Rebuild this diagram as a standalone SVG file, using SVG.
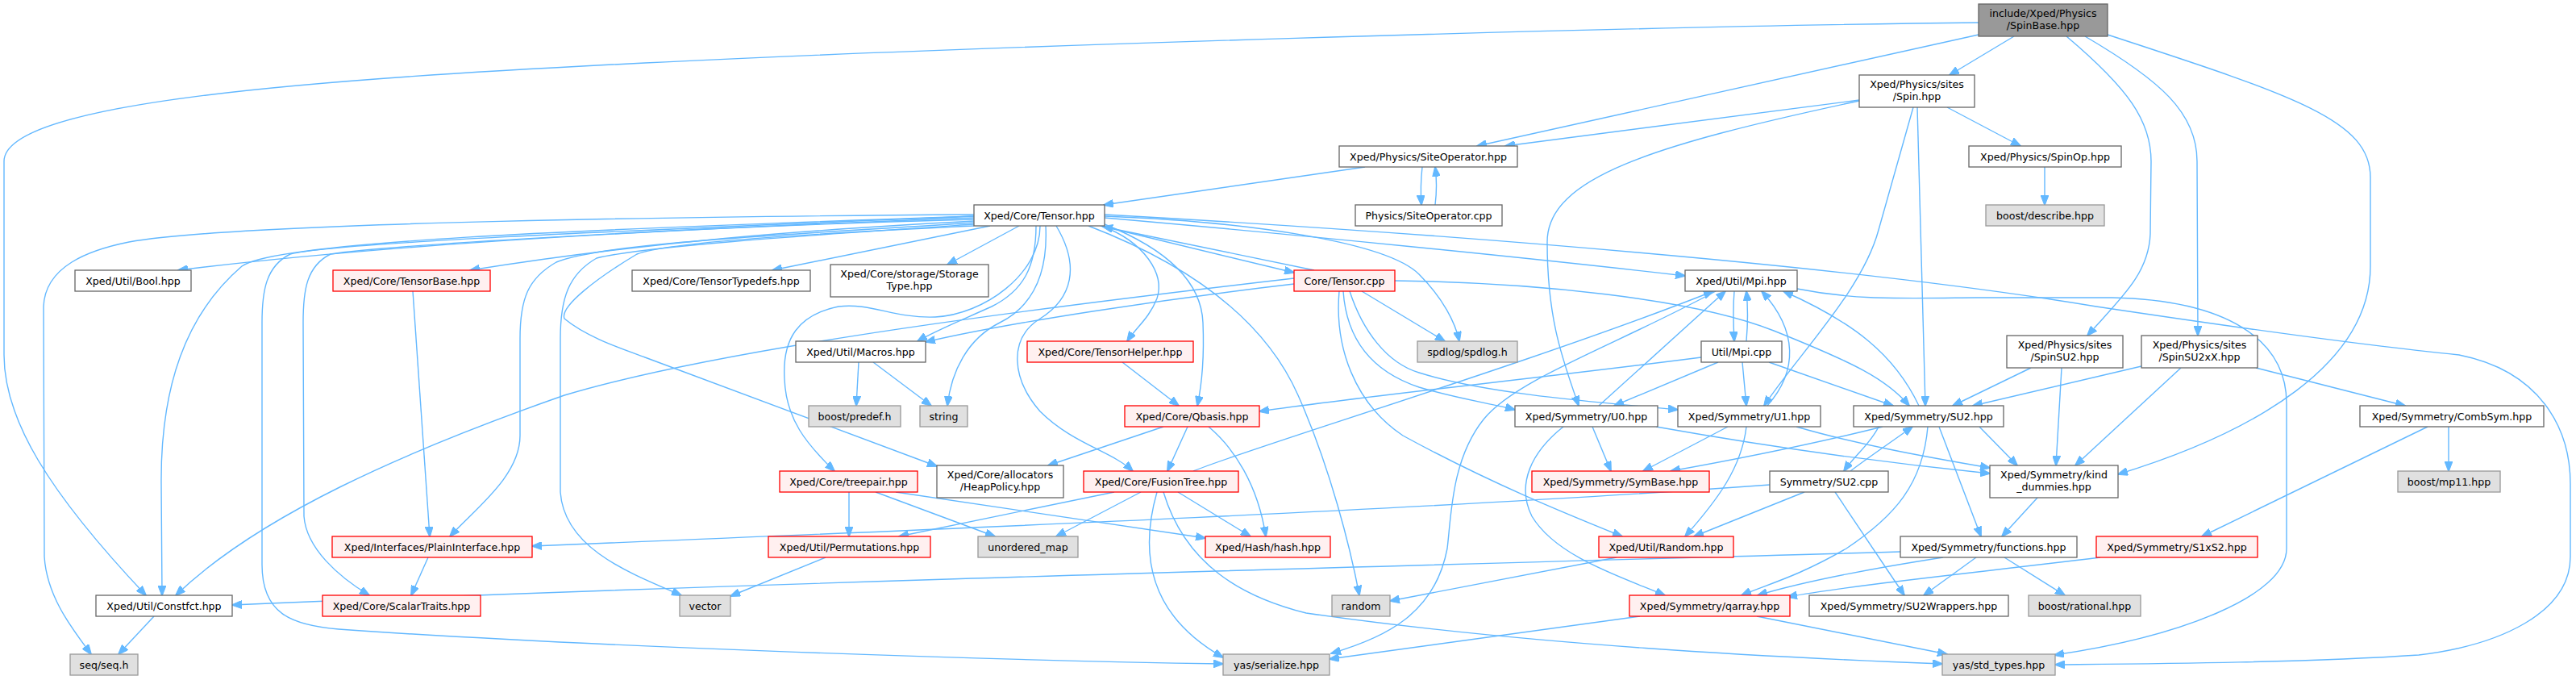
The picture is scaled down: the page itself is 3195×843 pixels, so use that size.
<svg xmlns="http://www.w3.org/2000/svg" width="3195" height="843" viewBox="0 0 3195 843">
<style>
rect{stroke-width:1.3}
.n rect{fill:#ffffff;stroke:#666666}
.r rect{fill:#fff0f0;stroke:#ff0000}
.g rect{fill:#e0e0e0;stroke:#999999}
.c rect{fill:#999999;stroke:#666666}
text{font-family:"DejaVu Sans","Liberation Sans",sans-serif;font-size:12.6px;text-anchor:middle;fill:#000}
#edges path{fill:none;stroke:#63b8ff;stroke-width:1.4;marker-end:url(#a)}
</style>
<defs>
<marker id="a" markerWidth="13" markerHeight="10" refX="12" refY="5" orient="auto" markerUnits="userSpaceOnUse"><path d="M0,0 L13,5 L0,10 z" fill="#63b8ff" stroke="#63b8ff"/></marker>
</defs>
<rect x="0" y="0" width="3195" height="843" fill="#ffffff"/>
<g id="edges">
<path d="M2498,45 L2418,93"/>
<path d="M2454,43 L1832,181"/>
<path d="M2454,28 C2000,33 1200,58 800,78 C400,98 5,125 5,200 L5,440 C5,520 60,610 181,738"/>
<path d="M2563,45 C2640,110 2668,150 2668,200 L2667,290 C2665,340 2630,370 2589,416"/>
<path d="M2586,45 C2680,100 2725,140 2725,200 L2726,416"/>
<path d="M2614,43 C2850,120 2940,150 2940,220 L2940,330 C2940,450 2800,535 2627,588"/>
<path d="M2306,124 L1867,181"/>
<path d="M2306,125 C2050,180 1919,220 1919,300 C1919,400 1940,450 1958,503"/>
<path d="M2373,133 L2330,285 C2310,360 2230,440 2188,503"/>
<path d="M2378,133 L2388,503"/>
<path d="M2415,133 L2506,181"/>
<path d="M2536,207 L2536,254"/>
<path d="M1693,207 L1369,254"/>
<path d="M1764,207 C1762,225 1762,240 1763,254"/>
<path d="M1780,254 C1782,238 1782,222 1780,207"/>
<path d="M1208,272 C900,280 500,300 221,335"/>
<path d="M1208,274 C1000,285 800,300 583,335"/>
<path d="M1208,266 C900,268 300,275 160,300 C110,310 56,330 54,380 L55,690 C58,740 90,780 113,811"/>
<path d="M1208,268 C700,285 340,300 300,330 C230,390 199,480 200,600 L201,738"/>
<path d="M1208,268 C800,285 420,300 360,315 C330,330 325,360 325,400 L325,700 C325,760 360,775 420,780 C700,800 1200,818 1517,823"/>
<path d="M1208,270 C800,285 470,305 410,315 C380,330 376,360 376,400 L377,640 C380,680 420,715 458,738"/>
<path d="M1208,276 C1000,290 750,300 690,325 C655,345 645,370 645,420 L645,540 C645,590 590,630 558,665"/>
<path d="M1208,278 C1000,292 800,305 740,320 C705,340 695,370 695,420 L695,610 C700,680 780,710 845,738"/>
<path d="M1208,280 C1000,290 830,300 790,315 C740,345 694,380 700,395 C730,420 780,435 800,443 L1162,578"/>
<path d="M1228,280 L958,335"/>
<path d="M1264,280 L1175,328"/>
<path d="M1285,280 C1285,330 1270,360 1230,380 C1190,398 1160,410 1138,423"/>
<path d="M1297,280 C1300,340 1280,380 1240,400 C1200,420 1180,460 1175,503"/>
<path d="M1290,280 C1290,340 1220,390 1160,393 C1110,395 1080,375 1040,380 C990,390 970,420 973,470 C975,520 1000,550 1035,584"/>
<path d="M1310,280 C1340,330 1330,370 1290,395 C1250,420 1255,470 1290,510 C1330,550 1380,560 1405,584"/>
<path d="M1366,280 C1420,300 1445,340 1435,370 C1425,395 1410,405 1398,423"/>
<path d="M1370,278 C1450,310 1490,350 1492,400 C1494,450 1490,480 1485,503"/>
<path d="M1365,280 L1605,338"/>
<path d="M1630,335 L1368,281"/>
<path d="M1370,270 C1600,290 1900,320 2090,342"/>
<path d="M1370,268 C1550,275 1720,300 1760,340 C1790,370 1805,400 1810,423"/>
<path d="M1350,280 C1480,330 1570,400 1610,490 C1650,580 1675,680 1686,738"/>
<path d="M1370,266 C1800,290 2300,330 2600,380 C2800,410 2950,430 3050,440 C3150,460 3188,530 3188,600 L3188,690 C3188,760 3100,800 3000,812 C2850,822 2650,823 2549,824"/>
<path d="M1605,352 C1450,370 1250,400 1148,424"/>
<path d="M1605,345 C1300,380 900,430 700,490 C500,560 320,640 218,738"/>
<path d="M1689,361 L1792,423"/>
<path d="M1666,361 C1670,420 1700,460 1760,480 C1810,495 1850,500 1879,508"/>
<path d="M1674,361 C1690,410 1720,450 1760,462 C1850,490 2000,500 2081,508"/>
<path d="M1661,361 C1655,430 1680,500 1740,540 C1850,600 1950,640 2012,665"/>
<path d="M1730,348 C1900,350 2100,370 2200,410 C2300,450 2340,470 2368,503"/>
<path d="M2151,361 C2149,385 2150,405 2151,423"/>
<path d="M2166,423 C2168,400 2168,380 2166,361"/>
<path d="M2128,361 C2000,430 1880,470 1840,520 C1800,570 1800,640 1795,680 C1780,760 1720,790 1651,810"/>
<path d="M2229,358 C2300,372 2350,370 2450,369 L2620,369 C2760,372 2836,420 2836,500 L2836,680 C2836,740 2700,790 2548,812"/>
<path d="M1983,503 L2140,361"/>
<path d="M1975,529 L1998,584"/>
<path d="M1939,529 C1900,560 1880,600 1900,640 C1930,690 2010,715 2065,738"/>
<path d="M2054,529 C2200,555 2350,575 2468,587"/>
<path d="M2192,503 C2230,460 2230,410 2185,361"/>
<path d="M2143,529 L2038,584"/>
<path d="M2166,529 C2160,580 2130,620 2090,665"/>
<path d="M2228,529 C2300,550 2380,565 2468,580"/>
<path d="M2380,503 C2350,440 2300,400 2212,361"/>
<path d="M2335,529 C2250,550 2150,570 2072,584"/>
<path d="M2391,529 C2385,600 2350,640 2290,680 C2230,715 2190,725 2160,738"/>
<path d="M2405,529 L2457,665"/>
<path d="M2455,529 L2502,577"/>
<path d="M2330,529 C2320,550 2300,565 2287,584"/>
<path d="M2295,584 C2320,565 2350,545 2372,529"/>
<path d="M2131,449 L2002,503"/>
<path d="M2161,449 L2166,503"/>
<path d="M2194,449 L2348,503"/>
<path d="M2110,443 C1900,470 1700,490 1562,510"/>
<path d="M2519,456 L2422,503"/>
<path d="M2557,456 L2550,577"/>
<path d="M2656,454 L2447,503"/>
<path d="M2705,456 L2574,577"/>
<path d="M2798,456 L2983,503"/>
<path d="M3011,529 L2731,665"/>
<path d="M3037,529 L3037,584"/>
<path d="M2605,691 C2450,710 2300,725 2217,740"/>
<path d="M2527,617 L2483,665"/>
<path d="M2357,684 C1800,700 1000,720 288,750"/>
<path d="M2410,691 C2320,705 2240,720 2180,738"/>
<path d="M2451,691 L2386,738"/>
<path d="M2486,691 L2561,738"/>
<path d="M2195,601 C1800,630 1200,655 660,677"/>
<path d="M2238,610 L2101,665"/>
<path d="M2276,610 L2362,738"/>
<path d="M2005,691 L1724,745"/>
<path d="M2034,764 L1649,817"/>
<path d="M2179,764 L2415,811"/>
<path d="M1480,584 C1550,555 1900,450 2125,361"/>
<path d="M1382,610 L1115,665"/>
<path d="M1415,610 L1310,665"/>
<path d="M1461,610 L1551,665"/>
<path d="M1435,610 C1415,680 1420,760 1517,815"/>
<path d="M1443,610 C1470,700 1540,740 1620,760 C1900,800 2200,815 2409,823"/>
<path d="M1053,610 L1053,665"/>
<path d="M1086,610 L1234,665"/>
<path d="M1111,610 L1495,667"/>
<path d="M1024,691 L906,739"/>
<path d="M1443,529 L1300,577"/>
<path d="M1473,529 L1448,584"/>
<path d="M1499,529 C1530,555 1560,600 1570,665"/>
<path d="M1392,449 L1462,503"/>
<path d="M1065,449 L1062,503"/>
<path d="M1083,449 L1155,503"/>
<path d="M512,361 L533,665"/>
<path d="M531,691 L510,738"/>
<path d="M191,764 L147,811"/>
</g>
<g id="n1" class="c"><rect x="2454" y="5" width="160" height="40"/><text x="2534" y="21">include/Xped/Physics</text><text x="2534" y="36">/SpinBase.hpp</text></g>
<g id="n2" class="n"><rect x="2306" y="93" width="143" height="40"/><text x="2377.5" y="109">Xped/Physics/sites</text><text x="2377.5" y="124">/Spin.hpp</text></g>
<g id="n3" class="n"><rect x="1661" y="181" width="221" height="26"/><text x="1771.5" y="198.5">Xped/Physics/SiteOperator.hpp</text></g>
<g id="n4" class="n"><rect x="2442" y="181" width="189" height="26"/><text x="2536.5" y="198.5">Xped/Physics/SpinOp.hpp</text></g>
<g id="n5" class="n"><rect x="1681" y="254" width="182" height="26"/><text x="1772" y="271.5">Physics/SiteOperator.cpp</text></g>
<g id="n6" class="n"><rect x="1208" y="254" width="162" height="26"/><text x="1289" y="271.5">Xped/Core/Tensor.hpp</text></g>
<g id="n7" class="g"><rect x="2463" y="254" width="147" height="26"/><text x="2536.5" y="271.5">boost/describe.hpp</text></g>
<g id="n8" class="n"><rect x="93" y="335" width="144" height="26"/><text x="165" y="352.5">Xped/Util/Bool.hpp</text></g>
<g id="n9" class="r"><rect x="413" y="335" width="195" height="26"/><text x="510.5" y="352.5">Xped/Core/TensorBase.hpp</text></g>
<g id="n10" class="n"><rect x="784" y="335" width="221" height="26"/><text x="894.5" y="352.5">Xped/Core/TensorTypedefs.hpp</text></g>
<g id="n11" class="n"><rect x="1030" y="328" width="196" height="40"/><text x="1128" y="344">Xped/Core/storage/Storage</text><text x="1128" y="359">Type.hpp</text></g>
<g id="n12" class="r"><rect x="1605" y="335" width="125" height="26"/><text x="1667.5" y="352.5">Core/Tensor.cpp</text></g>
<g id="n13" class="n"><rect x="2090" y="335" width="139" height="26"/><text x="2159.5" y="352.5">Xped/Util/Mpi.hpp</text></g>
<g id="n14" class="n"><rect x="987" y="423" width="161" height="26"/><text x="1067.5" y="440.5">Xped/Util/Macros.hpp</text></g>
<g id="n15" class="r"><rect x="1274" y="423" width="206" height="26"/><text x="1377" y="440.5">Xped/Core/TensorHelper.hpp</text></g>
<g id="n16" class="g"><rect x="1758" y="423" width="124" height="26"/><text x="1820" y="440.5">spdlog/spdlog.h</text></g>
<g id="n17" class="n"><rect x="2110" y="423" width="100" height="26"/><text x="2160" y="440.5">Util/Mpi.cpp</text></g>
<g id="n18" class="n"><rect x="2489" y="416" width="144" height="40"/><text x="2561" y="432">Xped/Physics/sites</text><text x="2561" y="447">/SpinSU2.hpp</text></g>
<g id="n19" class="n"><rect x="2656" y="416" width="144" height="40"/><text x="2728" y="432">Xped/Physics/sites</text><text x="2728" y="447">/SpinSU2xX.hpp</text></g>
<g id="n20" class="g"><rect x="1003" y="503" width="114" height="26"/><text x="1060" y="520.5">boost/predef.h</text></g>
<g id="n21" class="g"><rect x="1141" y="503" width="59" height="26"/><text x="1170.5" y="520.5">string</text></g>
<g id="n22" class="r"><rect x="1395" y="503" width="167" height="26"/><text x="1478.5" y="520.5">Xped/Core/Qbasis.hpp</text></g>
<g id="n23" class="n"><rect x="1879" y="503" width="177" height="26"/><text x="1967.5" y="520.5">Xped/Symmetry/U0.hpp</text></g>
<g id="n24" class="n"><rect x="2081" y="503" width="177" height="26"/><text x="2169.5" y="520.5">Xped/Symmetry/U1.hpp</text></g>
<g id="n25" class="n"><rect x="2299" y="503" width="186" height="26"/><text x="2392" y="520.5">Xped/Symmetry/SU2.hpp</text></g>
<g id="n26" class="n"><rect x="2927" y="503" width="228" height="26"/><text x="3041" y="520.5">Xped/Symmetry/CombSym.hpp</text></g>
<g id="n27" class="r"><rect x="967" y="584" width="171" height="26"/><text x="1052.5" y="601.5">Xped/Core/treepair.hpp</text></g>
<g id="n28" class="n"><rect x="1162" y="577" width="157" height="40"/><text x="1240.5" y="593">Xped/Core/allocators</text><text x="1240.5" y="608">/HeapPolicy.hpp</text></g>
<g id="n29" class="r"><rect x="1344" y="584" width="192" height="26"/><text x="1440" y="601.5">Xped/Core/FusionTree.hpp</text></g>
<g id="n30" class="r"><rect x="1900" y="584" width="220" height="26"/><text x="2010" y="601.5">Xped/Symmetry/SymBase.hpp</text></g>
<g id="n31" class="n"><rect x="2195" y="584" width="147" height="26"/><text x="2268.5" y="601.5">Symmetry/SU2.cpp</text></g>
<g id="n32" class="n"><rect x="2468" y="577" width="159" height="40"/><text x="2547.5" y="593">Xped/Symmetry/kind</text><text x="2547.5" y="608">_dummies.hpp</text></g>
<g id="n33" class="g"><rect x="2974" y="584" width="127" height="26"/><text x="3037.5" y="601.5">boost/mp11.hpp</text></g>
<g id="n34" class="r"><rect x="412" y="665" width="248" height="26"/><text x="536" y="682.5">Xped/Interfaces/PlainInterface.hpp</text></g>
<g id="n35" class="r"><rect x="953" y="665" width="201" height="26"/><text x="1053.5" y="682.5">Xped/Util/Permutations.hpp</text></g>
<g id="n36" class="g"><rect x="1213" y="665" width="124" height="26"/><text x="1275" y="682.5">unordered_map</text></g>
<g id="n37" class="r"><rect x="1495" y="665" width="155" height="26"/><text x="1572.5" y="682.5">Xped/Hash/hash.hpp</text></g>
<g id="n38" class="r"><rect x="1983" y="665" width="167" height="26"/><text x="2066.5" y="682.5">Xped/Util/Random.hpp</text></g>
<g id="n39" class="n"><rect x="2357" y="665" width="219" height="26"/><text x="2466.5" y="682.5">Xped/Symmetry/functions.hpp</text></g>
<g id="n40" class="r"><rect x="2600" y="665" width="200" height="26"/><text x="2700" y="682.5">Xped/Symmetry/S1xS2.hpp</text></g>
<g id="n41" class="n"><rect x="119" y="738" width="169" height="26"/><text x="203.5" y="755.5">Xped/Util/Constfct.hpp</text></g>
<g id="n42" class="r"><rect x="400" y="738" width="196" height="26"/><text x="498" y="755.5">Xped/Core/ScalarTraits.hpp</text></g>
<g id="n43" class="g"><rect x="843" y="738" width="63" height="26"/><text x="874.5" y="755.5">vector</text></g>
<g id="n44" class="g"><rect x="1652" y="738" width="72" height="26"/><text x="1688" y="755.5">random</text></g>
<g id="n45" class="r"><rect x="2021" y="738" width="199" height="26"/><text x="2120.5" y="755.5">Xped/Symmetry/qarray.hpp</text></g>
<g id="n46" class="n"><rect x="2244" y="738" width="247" height="26"/><text x="2367.5" y="755.5">Xped/Symmetry/SU2Wrappers.hpp</text></g>
<g id="n47" class="g"><rect x="2516" y="738" width="139" height="26"/><text x="2585.5" y="755.5">boost/rational.hpp</text></g>
<g id="n48" class="g"><rect x="87" y="811" width="84" height="26"/><text x="129" y="828.5">seq/seq.h</text></g>
<g id="n49" class="g"><rect x="1517" y="811" width="132" height="26"/><text x="1583" y="828.5">yas/serialize.hpp</text></g>
<g id="n50" class="g"><rect x="2409" y="811" width="140" height="26"/><text x="2479" y="828.5">yas/std_types.hpp</text></g>
</svg>
